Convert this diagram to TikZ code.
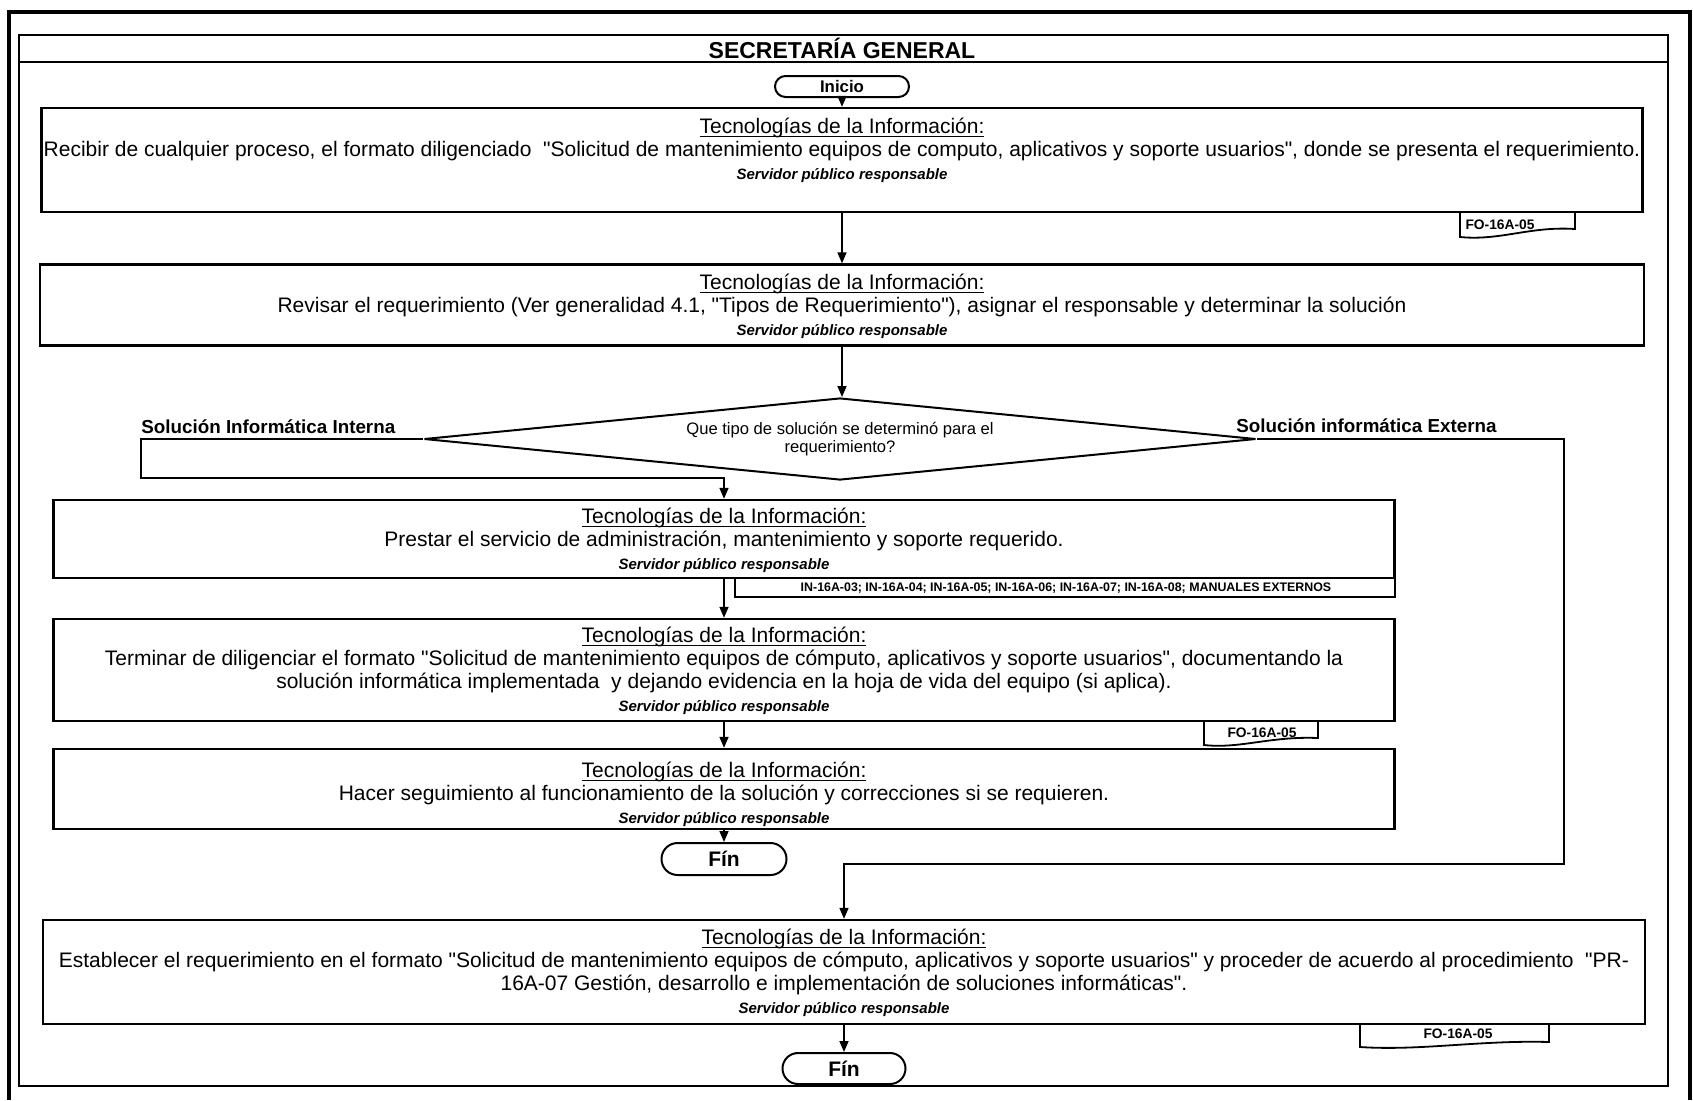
\documentclass[tikz,border=0pt]{standalone}
\usepackage{fontspec}
\setmainfont{Liberation Sans}[Ligatures=TeXOff]
\usetikzlibrary{shapes.geometric,shapes.misc,arrows.meta}

\newcommand{\subrayar}[1]{\setbox0\hbox{#1}\rlap{\copy0}\rule[-1.9pt]{\wd0}{0.5pt}}
\newcommand{\comillas}{\symbol{34}}
\newcommand{\encab}{{\fontsize{10.5}{11.5}\selectfont\subrayar{Tecnologías de la Información:}}}
\newcommand{\resp}{{\fontsize{7.5}{11.5}\selectfont\bfseries\itshape Servidor público responsable}}

\begin{document}
\begin{tikzpicture}[x=0.5pt,y=-0.5pt,
    caja/.style={draw,line width=1.2pt,inner sep=0pt},
    texto/.style={align=center,inner sep=0pt,font=\fontsize{10.5}{11.5}\selectfont},
    term/.style={draw,rounded rectangle,line width=1pt,inner sep=0pt,font=\bfseries},
    flecha/.style={line width=0.8pt,-{Triangle[length=5.5pt,width=4.5pt]}},
    etiq/.style={inner sep=0pt,font=\fontsize{9.4}{11}\selectfont\bfseries},
    docref/.style={inner sep=0pt,font=\fontsize{6.9}{7}\selectfont\bfseries},
    hoja/.style={line width=0.9pt}]
    \useasboundingbox (0,0) rectangle (1693,1100);
    \draw[line width=2pt] (9,1100) -- (9,12) -- (1690,12) -- (1690,1100);
    \draw[line width=1.2pt] (19,35) rectangle (1668,1086);
    \draw[line width=1.2pt] (19,62) -- (1668,62);
    \node[inner sep=0pt,anchor=base,font=\fontsize{11.5}{13}\selectfont\bfseries] (titulo) at (842,58) {\underline{SECRETARÍA GENERAL}};

    \node[term,minimum width=67pt,minimum height=10.5pt,font=\fontsize{8.4}{9}\selectfont\bfseries] (inicio) at (842,86.5) {Inicio};

    \node[caja,minimum width=800.5pt,minimum height=52pt] (b1) at (842,160) {};
    \node[texto] (t1) at (842,150) {\encab\\Recibir de cualquier proceso, el formato diligenciado \ \comillas Solicitud de mantenimiento equipos de computo, aplicativos y soporte usuarios\comillas, donde se presenta el requerimiento.\\\resp};
    \draw[hoja] (1460,212) -- (1460,237) .. controls (1500,241) and (1530,226) .. (1575,229) -- (1575,212);
    \node[docref] (f1) at (1500,225) {FO-16A-05};

    \node[caja,minimum width=802pt,minimum height=40.5pt] (b2) at (842,305) {};
    \node[texto] (t2) at (842,306) {\encab\\Revisar el requerimiento (Ver generalidad 4.1, \comillas Tipos de Requerimiento\comillas), asignar el responsable y determinar la solución\\\resp};

    \node[draw,diamond,aspect=10.1,minimum width=416pt,minimum height=41pt,inner sep=0pt,line width=1pt,align=center,font=\fontsize{8.3}{8.7}\selectfont] (dec) at (840,439) {Que tipo de solución se determinó para el\\requerimiento?};
    \node[etiq,anchor=base west] (lint) at (141,433) {Solución Informática Interna};
    \node[etiq,anchor=base west] (lext) at (1236,432) {Solución informática Externa};
    \coordinate (ci) at (141,478);
    \coordinate (ce) at (1564,864);

    \node[caja,minimum width=670.5pt,minimum height=39pt] (b3) at (724,539) {};
    \node[texto] (t3) at (724,540) {\encab\\Prestar el servicio de administración, mantenimiento y soporte requerido.\\\resp};
    \draw[hoja] (735,578) -- (735,597) -- (1395,597) -- (1395,578);
    \node[docref,font=\fontsize{6.2}{7}\selectfont\bfseries] (inref) at (1066,588) {IN-16A-03; IN-16A-04; IN-16A-05; IN-16A-06; IN-16A-07; IN-16A-08; MANUALES EXTERNOS};

    \node[caja,minimum width=670.5pt,minimum height=51pt] (b4) at (724,670) {};
    \node[texto] (t4) at (724,670.5) {\encab\\Terminar de diligenciar el formato \comillas Solicitud de mantenimiento equipos de cómputo, aplicativos y soporte usuarios\comillas, documentando la\\solución informática implementada \ y dejando evidencia en la hoja de vida del equipo (si aplica).\\\resp};
    \draw[hoja] (1204,721) -- (1204,745) .. controls (1240,749) and (1270,736) .. (1318,738) -- (1318,721);
    \node[docref] (f2) at (1262,733) {FO-16A-05};

    \node[caja,minimum width=670.5pt,minimum height=40pt] (b5) at (724,789) {};
    \node[texto] (t5) at (724,794) {\encab\\Hacer seguimiento al funcionamiento de la solución y correcciones si se requieren.\\\resp};

    \node[term,minimum width=62.5pt,minimum height=16pt,font=\fontsize{10.5}{12}\selectfont\bfseries] (fin1) at (724,859) {Fín};

    \node[caja,minimum width=801pt,minimum height=52pt] (b6) at (844,972) {};
    \node[texto] (t6) at (844,972.5) {\encab\\Establecer el requerimiento en el formato \comillas Solicitud de mantenimiento equipos de cómputo, aplicativos y soporte usuarios\comillas\ y proceder de acuerdo al procedimiento \ \comillas PR-\\16A-07 Gestión, desarrollo e implementación de soluciones informáticas\comillas.\\\resp};
    \draw[hoja] (1360,1024) -- (1360,1047) .. controls (1420,1051) and (1480,1040) .. (1549,1042) -- (1549,1024);
    \node[docref] (f3) at (1458,1034) {FO-16A-05};

    \node[term,minimum width=61.5pt,minimum height=15.5pt,font=\fontsize{10.5}{12}\selectfont\bfseries] (fin2) at (844,1068.5) {Fín};

    \draw[flecha] (inicio) -- (b1);
    \draw[flecha] (b1) -- (b2);
    \draw[flecha] (b2.south) -- (b2.south |- dec.north);
    \draw[flecha] (dec.west) -| (ci) -| (b3.north);
    \draw[flecha] (dec.east) -| (ce) -| (b6.north);
    \draw[flecha] (b3) -- (b4);
    \draw[flecha] (b4) -- (b5);
    \draw[flecha] (b5) -- (fin1);
    \draw[flecha] (b6) -- (fin2);
\end{tikzpicture}
\end{document}
